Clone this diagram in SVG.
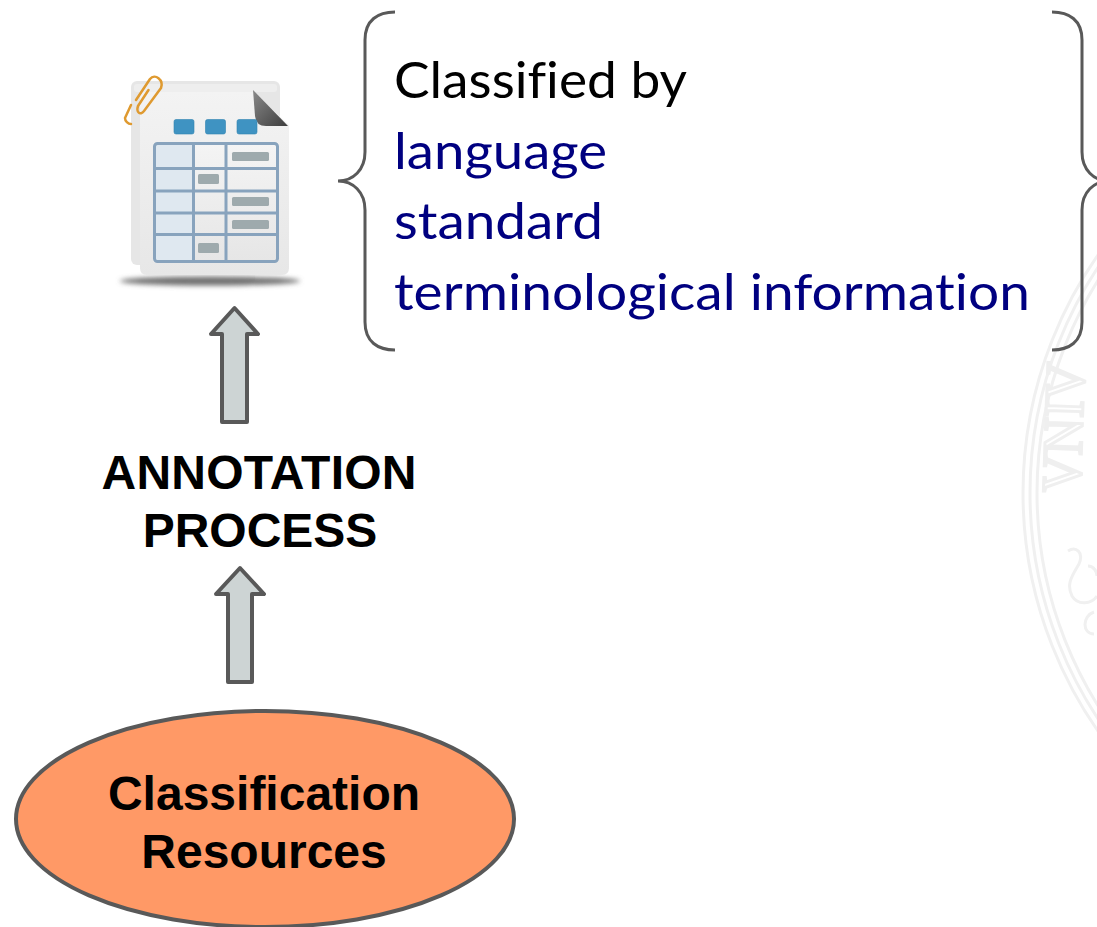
<svg xmlns="http://www.w3.org/2000/svg" width="1097" height="927" viewBox="0 0 1097 927">
<style>
.wm{fill:none;stroke:#f0f0f0;stroke-width:3}
.arrow{fill:#cdd4d4;stroke:#595959;stroke-width:4;stroke-linejoin:round}
.brace{fill:none;stroke:#595959;stroke-width:3}
.bold{font-family:"Liberation Sans",Arial,sans-serif;font-weight:700;font-size:48px;fill:#000;text-anchor:middle}
.list{font-family:Lato,"Open Sans",sans-serif;font-size:51px;font-variant-ligatures:none}
.blue{fill:#000080}
.cell{stroke:none}
.tag{fill:#9eaaad}
.tab{fill:#3f93c2;stroke:#2f83b0;stroke-width:.6}
</style>
<defs>
<linearGradient id="page" x1="0" y1="0" x2="0" y2="1"><stop offset="0" stop-color="#f3f3f3"/><stop offset="1" stop-color="#e7e7e7"/></linearGradient>
<linearGradient id="fold" x1="0" y1="0" x2="1" y2="1"><stop offset="0" stop-color="#8a8a8a"/><stop offset="1" stop-color="#3d3d3d"/></linearGradient>
<linearGradient id="cellgrad" x1="0" y1="0" x2="0" y2="1"><stop offset="0" stop-color="#f4f4f4"/><stop offset="1" stop-color="#e6e6e6"/></linearGradient>
<filter id="blur" x="-20%" y="-200%" width="140%" height="500%"><feGaussianBlur stdDeviation="2.6"/></filter>
</defs>
<rect width="1097" height="927" fill="#ffffff"/>
<g id="watermark">
<circle class="wm" cx="1438" cy="493" r="415"/>
<circle class="wm" cx="1438" cy="493" r="408"/>
<circle class="wm" cx="1438" cy="493" r="401"/>
<text transform="translate(1080,493) rotate(-88)" font-family="Liberation Serif,serif" font-size="56" textLength="130" lengthAdjust="spacingAndGlyphs" fill="#ffffff" stroke="#efefef" stroke-width="3">VNIV</text>
<path class="wm" d="M1068 551C1076 546 1084 552 1079 564C1072 576 1066 584 1072 596C1078 606 1092 604 1097 596M1094 612C1082 616 1082 634 1094 634M1088 566C1094 566 1097 572 1097 576"/>
</g>
<g id="document-icon">
<ellipse cx="210" cy="281" rx="90" ry="4.5" fill="#6f6f6f" filter="url(#blur)"/>
<rect x="131" y="81" width="149" height="184" rx="6" fill="#e6e6e6"/>
<rect x="134" y="84" width="143" height="8" rx="3" fill="#eeeeee"/>
<path d="M140 92H253L289 125V268Q289 275 282 275H147Q140 275 140 268Z" fill="url(#page)"/>
<path d="M253 90L288 126H266Q256 126 255 116Z" fill="url(#fold)"/>
<rect class="tab" x="174" y="119.500" width="20" height="14.500" rx="2"/>
<rect class="tab" x="205.500" y="119.500" width="20" height="14.500" rx="2"/>
<rect class="tab" x="237" y="119.500" width="20" height="14.500" rx="2"/>
<rect x="155" y="144" width="122" height="117" rx="3" fill="url(#cellgrad)"/>
<rect class="cell" x="155" y="144" width="38" height="117" fill="#dfe8f0"/>
<path d="M155 168.500H277M155 191H277M155 213H277M155 234.500H277M193.500 144V261M226 144V261" fill="none" stroke="#88a3bd" stroke-width="3"/>
<rect x="154.500" y="143.500" width="123" height="118" rx="3" fill="none" stroke="#88a3bd" stroke-width="3"/>
<rect class="tag" x="232" y="152" width="37" height="9" rx="1.500"/>
<rect class="tag" x="198" y="174" width="21" height="10" rx="1.500"/>
<rect class="tag" x="232" y="197" width="37" height="9" rx="1.500"/>
<rect class="tag" x="232" y="220" width="37" height="9" rx="1.500"/>
<rect class="tag" x="198" y="243" width="21" height="10" rx="1.500"/>
<path d="M148.500 90L138 106C136 112 140 116 144 111L161 88C164 80 155 73 150 79L136 100M131 105L125 118C125 121 128 124 131 124" fill="none" stroke="#df9a30" stroke-width="2.500" stroke-linecap="round" stroke-linejoin="round"/>
</g>
<g id="connectors">
<path class="arrow" d="M234.500 308L258 334H247V422H222V334H211Z"/>
<path class="arrow" d="M240 568L264 594H252V682H228V594H216Z"/>
</g>
<g id="brace-left"><path class="brace" d="M395 12C378 12 365 20 365 40V152C365 170 353 181 338 181C353 181 365 192 365 210V322C365 342 378 350 395 350"/></g>
<g id="brace-right"><path class="brace" d="M1052 12C1069 12 1082 20 1082 40V152C1082 170 1094 181 1109 181C1094 181 1082 192 1082 210V322C1082 342 1069 350 1052 350"/></g>
<g id="classified-list" class="list">
<text x="394" y="98" textLength="293" lengthAdjust="spacingAndGlyphs">Classified by</text>
<text class="blue" x="394" y="169" textLength="213" lengthAdjust="spacingAndGlyphs">language</text>
<text class="blue" x="394" y="239" textLength="209" lengthAdjust="spacingAndGlyphs">standard</text>
<text class="blue" x="394" y="310" textLength="636" lengthAdjust="spacingAndGlyphs">terminological information</text>
</g>
<g id="annotation-process">
<text class="bold" x="259" y="489" textLength="315">ANNOTATION</text>
<text class="bold" x="260" y="547">PROCESS</text>
</g>
<g id="classification-resources">
<ellipse cx="265" cy="819" rx="249" ry="108" fill="#ff9966" stroke="#595959" stroke-width="4"/>
<text class="bold" x="264" y="810">Classification</text>
<text class="bold" x="264" y="868">Resources</text>
</g>
</svg>
